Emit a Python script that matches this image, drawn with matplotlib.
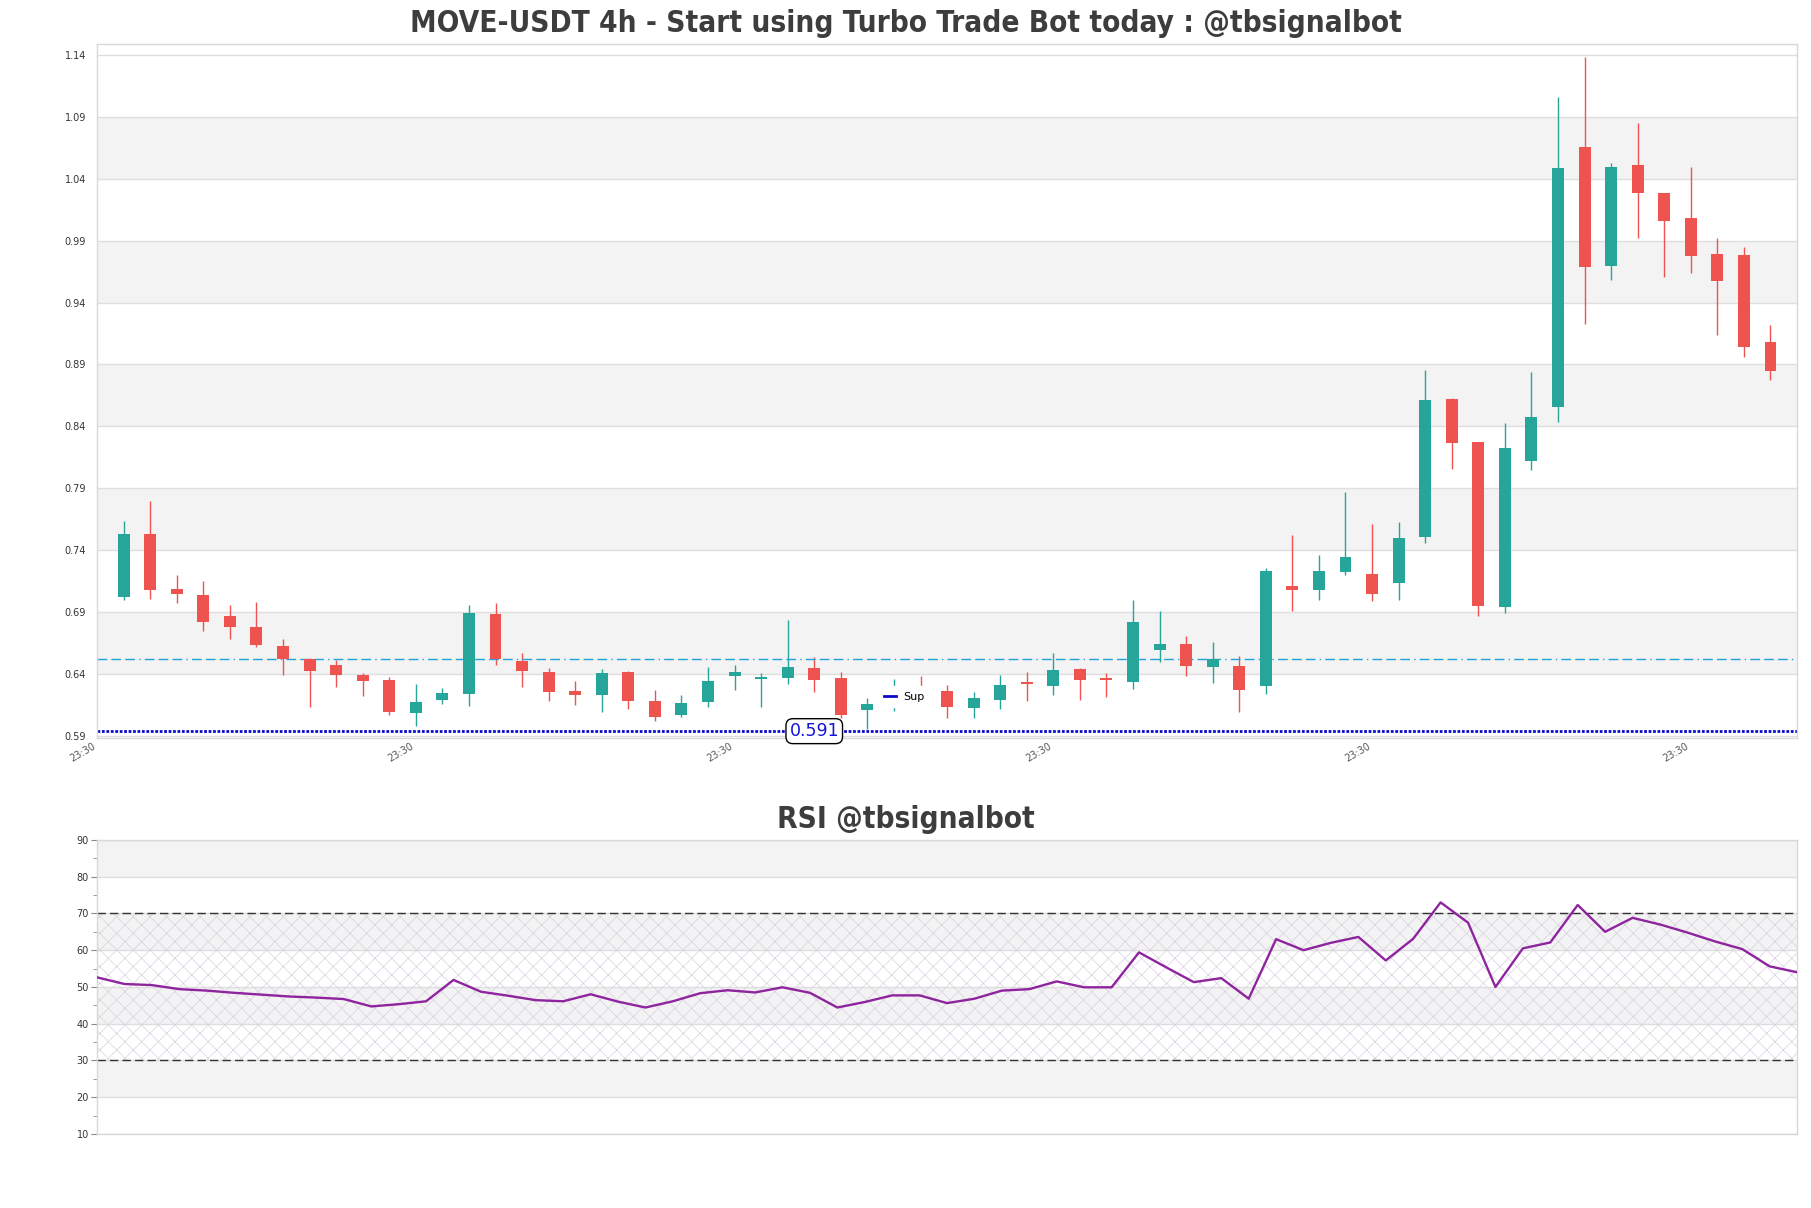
import matplotlib
matplotlib.use('Agg')
import matplotlib.pyplot as plt
import numpy as np
from matplotlib.lines import Line2D

plt.rcParams['hatch.linewidth'] = 0.5

# ---------------- data ----------------
opens = [0.7019, 0.7530, 0.7085, 0.7037, 0.6867, 0.6778, 0.6626, 0.6522, 0.6467, 0.6393,
         0.6352, 0.6081, 0.6185, 0.6233, 0.6885, 0.6500, 0.6415, 0.6259, 0.6226, 0.6415,
         0.6181, 0.6067, 0.6170, 0.6378, 0.6356, 0.6363, 0.6448, 0.6363, 0.6107, 0.6170,
         0.6280, 0.6263, 0.6126, 0.6185, 0.6330, 0.6300, 0.6441, 0.6363, 0.6330, 0.6589,
         0.6641, 0.6452, 0.6459, 0.6300, 0.7107, 0.7074, 0.7219, 0.7207, 0.7137, 0.7507,
         0.8619, 0.8270, 0.6941, 0.8122, 0.8559, 1.0659, 0.9696, 1.0515, 1.0289, 1.0085,
         0.9796, 0.9789, 0.9078]
highs = [0.7633, 0.7796, 0.7196, 0.7152, 0.6956, 0.6981, 0.6681, 0.6526, 0.6515, 0.6407,
         0.6374, 0.6319, 0.6285, 0.6952, 0.6974, 0.6570, 0.6448, 0.6344, 0.6437, 0.6420,
         0.6270, 0.6226, 0.6456, 0.6474, 0.6407, 0.6837, 0.6533, 0.6411, 0.6204, 0.6360,
         0.6382, 0.6307, 0.6256, 0.6393, 0.6411, 0.6567, 0.6445, 0.6404, 0.6996, 0.6907,
         0.6707, 0.6659, 0.6541, 0.7256, 0.7522, 0.7359, 0.7867, 0.7611, 0.7626, 0.8856,
         0.8626, 0.8270, 0.8426, 0.8837, 1.1059, 1.1385, 1.0530, 1.0852, 1.0289, 1.0496,
         0.9922, 0.9852, 0.9222]
lows = [0.6996, 0.7004, 0.6974, 0.6744, 0.6678, 0.6615, 0.6393, 0.6133, 0.6296, 0.6222,
        0.6070, 0.5974, 0.6156, 0.6141, 0.6474, 0.6293, 0.6178, 0.6144, 0.6089, 0.6115,
        0.6019, 0.6048, 0.6130, 0.6270, 0.6133, 0.6315, 0.6252, 0.6041, 0.5956, 0.6100,
        0.6150, 0.6041, 0.6041, 0.6115, 0.6178, 0.6226, 0.6185, 0.6211, 0.6278, 0.6493,
        0.6385, 0.6322, 0.6089, 0.6233, 0.6904, 0.7000, 0.7196, 0.6985, 0.7000, 0.7459,
        0.8059, 0.6863, 0.6893, 0.8048, 0.8437, 0.9226, 0.9581, 0.9922, 0.9607, 0.9637,
        0.9137, 0.8959, 0.8774]
closes = [0.7530, 0.7081, 0.7041, 0.6815, 0.6774, 0.6630, 0.6519, 0.6426, 0.6393, 0.6344,
          0.6093, 0.6174, 0.6241, 0.6893, 0.6519, 0.6419, 0.6252, 0.6226, 0.6407, 0.6178,
          0.6048, 0.6167, 0.6344, 0.6415, 0.6370, 0.6456, 0.6348, 0.6070, 0.6159, 0.6240,
          0.6200, 0.6133, 0.6207, 0.6311, 0.6315, 0.6433, 0.6348, 0.6348, 0.6819, 0.6637,
          0.6459, 0.6519, 0.6267, 0.7230, 0.7078, 0.7230, 0.7344, 0.7048, 0.7496, 0.8611,
          0.8263, 0.6948, 0.8222, 0.8474, 1.0485, 0.9685, 1.0496, 1.0285, 1.0059, 0.9774,
          0.9574, 0.9041, 0.8848]

rsi = [52.6, 50.8, 50.5, 49.4, 49.0, 48.4, 47.9, 47.4, 47.1, 46.7,
       44.7, 45.3, 46.1, 51.9, 48.7, 47.6, 46.4, 46.1, 48.0, 46.0,
       44.4, 46.1, 48.3, 49.1, 48.5, 49.9, 48.4, 44.4, 45.9, 47.7,
       47.7, 45.6, 46.8, 49.0, 49.4, 51.5, 49.9, 49.9, 59.4, 55.3,
       51.3, 52.4, 46.8, 63.0, 60.0, 62.0, 63.6, 57.2, 63.1, 73.0,
       67.5, 50.0, 60.5, 62.1, 72.3, 65.0, 68.8, 67.0, 64.8, 62.4,
       60.3, 55.6, 54.0]

support_level = 0.5936
support_label = '0.591'
resistance_level = 0.652
xtick_pos = [-1, 11, 23, 35, 47, 59]
xtick_labels = ['23:30'] * 6
price_ticks = [0.59, 0.64, 0.69, 0.74, 0.79, 0.84, 0.89, 0.94, 0.99, 1.04, 1.09, 1.14]
rsi_ticks = [10, 20, 30, 40, 50, 60, 70, 80, 90]

title = 'MOVE-USDT 4h - Start using Turbo Trade Bot today : @tbsignalbot'
rsi_title = 'RSI @tbsignalbot'

# ---------------- styling ----------------
GREEN = '#26a69a'
RED = '#ef5350'
BAND = '#f3f3f3'
GRID = '#dedede'
SPINE = '#d8d8d8'
TXT = '#3d3d3d'

fig = plt.figure(figsize=(18.11, 12.08), dpi=100)
ax = fig.add_axes([0.0536, 0.389, 0.9387, 0.5745])
ax2 = fig.add_axes([0.0536, 0.0613, 0.9387, 0.2434])

o = np.array(opens); h = np.array(highs); l = np.array(lows); c = np.array(closes)
x = np.arange(len(o))
up = c >= o
cols = np.where(up, GREEN, RED)

# bands + grid (main)
for k in range(len(price_ticks) - 1):
    if k % 2 == 1:
        ax.axhspan(price_ticks[k], price_ticks[k + 1], color=BAND, lw=0, zorder=0)
for t in price_ticks:
    ax.axhline(t, color=GRID, lw=1, zorder=0.5)

ax.vlines(x, l, h, color=cols, lw=1, zorder=2)
body_bottom = np.minimum(o, c)
body_h = np.maximum(np.abs(c - o), 0.0012)
ax.bar(x, body_h, bottom=body_bottom, width=0.45, color=cols, lw=0, zorder=3)

ax.axhline(resistance_level, color='#1ea4dc', lw=1, ls=(0, (7, 3, 7, 3, 7, 3, 1, 3)), zorder=2.5)
ax.axhline(support_level, color='#0a0acc', lw=2, ls=(0, (1, 0.6)), zorder=2.5)
ax.text(26, support_level, support_label, ha='center', va='center', fontsize=12.5,
        color='#1414d8', zorder=6,
        bbox=dict(boxstyle='round,pad=0.2,rounding_size=0.4', fc='white', ec='black', lw=1))

leg_handle = Line2D([], [], color='#0a0acc', lw=2)
leg = ax.legend([leg_handle], ['Sup'], loc='center', bbox_to_anchor=(0.475, 0.0598),
                frameon=True, facecolor='white', edgecolor='white', framealpha=1,
                fontsize=8, handlelength=1.0, handletextpad=0.7, borderpad=0.5)
leg.set_zorder(5)

ax.set_xlim(-1, len(o))
ax.set_ylim(0.588, 1.149)
ax.set_yticks(price_ticks)
ax.set_yticklabels(['%.2f' % t for t in price_ticks])
ax.tick_params(axis='y', length=0, pad=8, labelsize=7, labelcolor='#333333')
ax.set_xticks(xtick_pos)
ax.set_xticklabels(xtick_labels, rotation=30, ha='right', fontsize=7, color='#555555')
ax.tick_params(axis='x', length=0, pad=2)
for s in ax.spines.values():
    s.set_color(SPINE)
    s.set_linewidth(1)

# ---------------- RSI ----------------
xr = np.arange(len(rsi))
for k in range(len(rsi_ticks) - 1):
    if k % 2 == 1:
        ax2.axhspan(rsi_ticks[k], rsi_ticks[k + 1], color=BAND, lw=0, zorder=0)
for t in rsi_ticks:
    ax2.axhline(t, color=GRID, lw=1, zorder=0.5)
ax2.fill_between([xr[0], xr[-1]], 30, 70, facecolor='none', hatch='xx',
                 edgecolor='#d8d0e0', linewidth=0, zorder=1)
ax2.axhline(70, color='#333333', lw=1, ls=(0, (6, 3)), zorder=2)
ax2.axhline(30, color='#333333', lw=1, ls=(0, (6, 3)), zorder=2)
ax2.plot(xr, rsi, color='#8e249e', lw=1.7, zorder=3)

ax2.set_xlim(xr[0], xr[-1])
ax2.set_ylim(10, 90)
ax2.set_yticks(rsi_ticks)
ax2.set_yticks(np.arange(15, 90, 10), minor=True)
ax2.tick_params(axis='y', which='major', length=4, pad=2, labelsize=7, labelcolor='#333333', color='#888888')
ax2.tick_params(axis='y', which='minor', length=3, color='#888888')
ax2.set_xticks([])
for s in ax2.spines.values():
    s.set_color(SPINE)
    s.set_linewidth(1)

fig.text(0.5, 1 - 23 / 1208, title, ha='center', va='center', fontsize=21.3,
         fontweight='bold', fontstretch='condensed', color=TXT)
fig.text(0.5, 1 - 819 / 1208, rsi_title, ha='center', va='center', fontsize=21.3,
         fontweight='bold', fontstretch='condensed', color=TXT)

fig.savefig('out.png', dpi=100, facecolor='white')
